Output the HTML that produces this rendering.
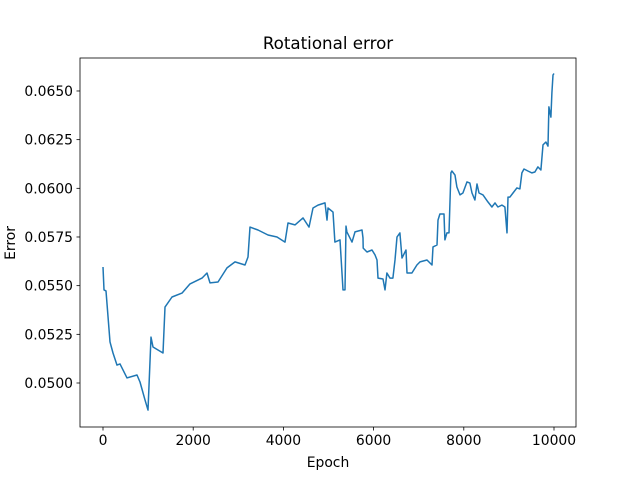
<!DOCTYPE html>
<html><head><meta charset="utf-8"><style>
body{margin:0;background:#fff;font-family:"DejaVu Sans","Liberation Sans",sans-serif}
</style></head><body>
<svg id="chart" width="640" height="480" xmlns="http://www.w3.org/2000/svg" font-family="DejaVu Sans, Liberation Sans, sans-serif">
<rect width="640" height="480" fill="#fff"/>
<text x="328" y="49" text-anchor="middle" font-size="16.7" fill="#000">Rotational error</text>
<g id="axes"></g>
<text x="328" y="467" text-anchor="middle" font-size="13.9" fill="#000">Epoch</text>
<text transform="translate(15,243) rotate(-90)" text-anchor="middle" font-size="13.9" fill="#000">Error</text>
</svg>
<script>
const epochs=[0,22,67,155,222,310,377,532,754,820,931,998,1064,1109,1330,1375,1530,1751,1929,2195,2306,2372,2550,2749,2926,3148,3215,3259,3436,3658,3858,4035,4102,4257,4434,4567,4656,4767,4922,4966,4988,5099,5143,5254,5321,5365,5387,5409,5520,5587,5742,5764,5770,5853,5964,6030,6075,6097,6208,6252,6296,6363,6429,6474,6518,6584,6629,6718,6740,6850,6961,7028,7183,7294,7316,7405,7427,7471,7560,7582,7626,7671,7715,7737,7804,7848,7915,7981,8070,8136,8181,8247,8292,8336,8425,8535,8624,8691,8757,8846,8912,8957,8979,9023,9090,9178,9245,9289,9334,9422,9511,9577,9644,9710,9755,9821,9866,9888,9932,9954,9977,10000];
const errors=[0.05596,0.05478,0.05473,0.05211,0.05154,0.05092,0.05098,0.05026,0.05041,0.05005,0.04913,0.04861,0.05236,0.05185,0.05154,0.05390,0.05442,0.05462,0.05509,0.05539,0.05565,0.05514,0.05519,0.05591,0.05622,0.05606,0.05647,0.05801,0.05786,0.05760,0.05750,0.05724,0.05822,0.05812,0.05848,0.05801,0.05899,0.05914,0.05925,0.05837,0.05899,0.05878,0.05724,0.05735,0.05478,0.05478,0.05806,0.05776,0.05724,0.05776,0.05786,0.05745,0.05693,0.05673,0.05683,0.05658,0.05632,0.05539,0.05534,0.05478,0.05565,0.05539,0.05539,0.05632,0.05750,0.05771,0.05642,0.05683,0.05565,0.05565,0.05606,0.05622,0.05632,0.05606,0.05699,0.05709,0.05837,0.05868,0.05868,0.05735,0.05771,0.05771,0.06079,0.06089,0.06068,0.06007,0.05966,0.05976,0.06033,0.06027,0.05976,0.05940,0.06022,0.05976,0.05966,0.05930,0.05904,0.05925,0.05904,0.05914,0.05904,0.05771,0.05955,0.05955,0.05976,0.06002,0.05997,0.06079,0.06099,0.06089,0.06079,0.06084,0.06110,0.06094,0.06223,0.06238,0.06217,0.06418,0.06366,0.06490,0.06582,0.06590];
const xTicks=[0,2000,4000,6000,8000,10000];
const yTicks=[0.0500,0.0525,0.0550,0.0575,0.0600,0.0625,0.0650];
const L=80,R=576,T=58,B=427;
const X=e=>103+e*0.0451;
const Y=v=>383-(v-0.05)/0.0025*48.67;
const NS='http://www.w3.org/2000/svg';
const g=document.getElementById('axes');
function mk(t,a){const el=document.createElementNS(NS,t);for(const k in a)el.setAttribute(k,a[k]);g.appendChild(el);return el;}
let d='';
epochs.forEach((e,i)=>{d+=(i?'L':'M')+X(e).toFixed(1)+','+Y(errors[i]).toFixed(1);});
const line=mk('path',{d:d,fill:'none',stroke:'#1f77b4','stroke-width':1.5,'stroke-linejoin':'round'});


const frame=mk('rect',{x:L,y:T,width:R-L,height:B-T,fill:'none',stroke:'#000','stroke-width':0.8});


xTicks.forEach(t=>{
  const x=X(t);
  const tk=mk('line',{x1:x,x2:x,y1:B,y2:B+3.5,stroke:'#000','stroke-width':0.8});
  
  
  const tx=mk('text',{x:x,y:B+18,'text-anchor':'middle','font-size':13.9,fill:'#000'});
  tx.textContent=t;
  
  
});
yTicks.forEach(t=>{
  const y=Y(t);
  const tk=mk('line',{x1:L-3.5,x2:L,y1:y,y2:y,stroke:'#000','stroke-width':0.8});
  
  
  const tx=mk('text',{x:L-7,y:y+5,'text-anchor':'end','font-size':13.9,fill:'#000'});
  tx.textContent=t.toFixed(4);
  
  
});
</script>
</body></html>
